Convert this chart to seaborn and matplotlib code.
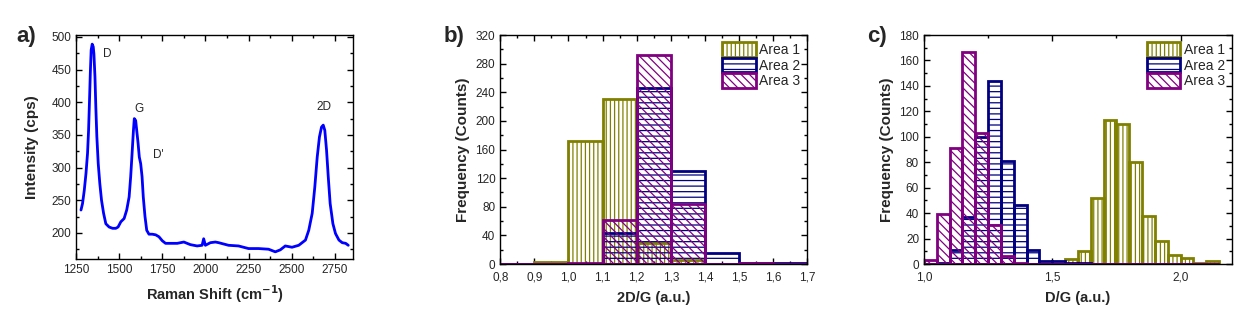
import numpy as np
import pandas as pd
import seaborn as sns
import matplotlib.pyplot as plt
from matplotlib.patches import Patch
from matplotlib.ticker import MultipleLocator, FuncFormatter

# --- panel a: Raman spectrum ---
raman_shift = [1279, 1288, 1298, 1308, 1317, 1323, 1329, 1333, 1338, 1344, 1350, 1354,
               1360, 1365, 1371, 1379, 1388, 1398, 1410, 1423, 1442, 1462, 1481, 1494,
               1510, 1529, 1544, 1558, 1567, 1575, 1583, 1588, 1596, 1602, 1610, 1617,
               1625, 1633, 1640, 1650, 1660, 1673, 1692, 1712, 1731, 1750, 1769, 1798,
               1837, 1875, 1913, 1952, 1981, 1990, 2000, 2029, 2058, 2077, 2134, 2192,
               2250, 2308, 2366, 2405, 2434, 2463, 2502, 2541, 2580, 2599, 2619, 2634,
               2648, 2661, 2673, 2683, 2692, 2702, 2712, 2723, 2739, 2754, 2774, 2793,
               2813, 2828]
intensity = [235, 245, 265, 291, 322, 357, 408, 444, 480, 489, 485, 474,
             439, 393, 347, 306, 276, 250, 230, 214, 209, 207, 207, 209,
             217, 222, 235, 255, 286, 321, 357, 375, 372, 357, 337, 316,
             306, 286, 255, 225, 204, 198, 198, 197, 194, 188, 184, 184,
             184, 186, 182, 180, 181, 191, 181, 185, 186, 185, 181, 180,
             176, 176, 175, 171, 174, 180, 178, 181, 189, 204, 230, 270,
             316, 347, 362, 365, 357, 327, 286, 245, 214, 199, 189, 185,
             184, 181]
peak_names = ["D", "G", "D'", "2D"]
peak_x = [1431, 1613, 1727, 2686]
peak_y = [474, 390, 319, 392]

# --- panel b: 2D/G histogram ---
b_edges = [0.8, 0.9, 1.0, 1.1, 1.2, 1.3, 1.4, 1.5, 1.6, 1.7]
b_area1 = [0, 3, 172, 231, 30, 5, 0, 0, 0]
b_area2 = [0, 0, 0, 44, 246, 130, 16, 1, 1]
b_area3 = [0, 0, 1, 61, 292, 84, 0, 1, 0]
b_xticks = [0.8, 0.9, 1.0, 1.1, 1.2, 1.3, 1.4, 1.5, 1.6, 1.7]

# --- panel c: D/G histogram ---
c_edges = [1.00, 1.05, 1.10, 1.15, 1.20, 1.25, 1.30, 1.35, 1.40, 1.45, 1.50, 1.55,
           1.60, 1.65, 1.70, 1.75, 1.80, 1.85, 1.90, 1.95, 2.00, 2.05, 2.10, 2.15]
c_area1 = [0, 0, 0, 0, 0, 0, 0, 0, 0, 0, 0, 4,
           10, 52, 113, 110, 80, 38, 18, 7, 5, 1, 2]
c_area2 = [0, 1, 11, 37, 100, 144, 81, 46, 11, 2, 2, 1,
           1, 0, 0, 0, 0, 0, 0, 0, 0, 0, 0]
c_area3 = [3, 39, 91, 167, 103, 31, 6, 1, 0, 0, 0, 0,
           0, 0, 0, 0, 0, 0, 0, 0, 0, 0, 0]
c_xticks = [1.0, 1.5, 2.0]

areas = ["Area 1", "Area 2", "Area 3"]
colors = ["#808000", "#000080", "#800080"]
hatches = ["||||", "---", "\\\\\\\\"]

sns.set_style("ticks")
plt.rcParams["font.family"] = ["Liberation Sans", "DejaVu Sans"]
plt.rcParams["hatch.linewidth"] = 0.9

fig = plt.figure(figsize=(12.6, 3.13), dpi=100)
ax_a = fig.add_axes([0.0603, 0.1725, 0.2198, 0.7157])
ax_b = fig.add_axes([0.397, 0.1565, 0.2437, 0.7316])
ax_c = fig.add_axes([0.7333, 0.1565, 0.2444, 0.7316])


def style_axes(ax, xpad=3.5):
    ax.tick_params(which="both", direction="in", top=True, right=True,
                   labelsize=8.5, width=1, color="black")
    ax.tick_params(which="major", length=4)
    ax.tick_params(which="minor", length=2)
    ax.tick_params(axis="x", which="major", pad=xpad)
    for s in ax.spines.values():
        s.set_linewidth(1)
        s.set_color("black")


# panel a
sns.lineplot(x=raman_shift, y=intensity, sort=False, estimator=None,
             color="#0000ff", linewidth=2, ax=ax_a)
for name, px, py in zip(peak_names, peak_x, peak_y):
    ax_a.text(px, py, name, fontsize=8.5, ha="center", va="center")
ax_a.set_xlim(1250, 2855)
ax_a.set_ylim(160, 503)
ax_a.xaxis.set_major_locator(MultipleLocator(250))
ax_a.xaxis.set_minor_locator(MultipleLocator(125))
ax_a.yaxis.set_minor_locator(MultipleLocator(25))
ax_a.set_yticks([200, 250, 300, 350, 400, 450, 500])
ax_a.set_xlabel("Raman Shift (cm$^{\\mathbf{-1}}$)", fontsize=10.5,
                fontweight="bold", labelpad=5)
ax_a.set_ylabel("Intensity (cps)", fontsize=11, fontweight="bold", labelpad=9)
style_axes(ax_a)

comma = FuncFormatter(lambda v, p: f"{v:.1f}".replace(".", ","))


def draw_hist(ax, edges, series):
    centers = [(edges[i] + edges[i + 1]) / 2 for i in range(len(edges) - 1)]
    for counts, col, h in zip(series, colors, hatches):
        n0 = len(ax.patches)
        sns.histplot(x=centers, weights=counts, bins=edges, fill=False,
                     color=col, linewidth=2, ax=ax)
        for p in ax.patches[n0:]:
            p.set_hatch(h)
            p.set_edgecolor(col)
    handles = [Patch(facecolor="none", edgecolor=c, hatch=h, linewidth=2)
               for c, h in zip(colors, hatches)]
    ax.legend(handles, areas, loc="upper right", frameon=False, fontsize=10,
              handlelength=2.4, handleheight=1.25, labelspacing=0.05,
              handletextpad=0.25, borderaxespad=0.3, borderpad=0.2)


# panel b
draw_hist(ax_b, b_edges, [b_area1, b_area2, b_area3])
ax_b.set_xlim(0.8, 1.7)
ax_b.set_ylim(0, 320)
ax_b.set_xticks(b_xticks)
ax_b.xaxis.set_major_formatter(comma)
ax_b.xaxis.set_minor_locator(MultipleLocator(0.05))
ax_b.yaxis.set_major_locator(MultipleLocator(40))
ax_b.yaxis.set_minor_locator(MultipleLocator(20))
ax_b.set_xlabel("2D/G (a.u.)", fontsize=10.5, fontweight="bold", labelpad=5)
ax_b.set_ylabel("Frequency (Counts)", fontsize=11, fontweight="bold")
style_axes(ax_b, xpad=5.5)

# panel c
draw_hist(ax_c, c_edges, [c_area1, c_area2, c_area3])
ax_c.set_xlim(1.0, 2.2)
ax_c.set_ylim(0, 180)
ax_c.set_xticks(c_xticks)
ax_c.xaxis.set_major_formatter(comma)
ax_c.xaxis.set_minor_locator(MultipleLocator(0.25))
ax_c.yaxis.set_major_locator(MultipleLocator(20))
ax_c.yaxis.set_minor_locator(MultipleLocator(10))
ax_c.set_xlabel("D/G (a.u.)", fontsize=10.5, fontweight="bold", labelpad=5)
ax_c.set_ylabel("Frequency (Counts)", fontsize=11, fontweight="bold")
style_axes(ax_c, xpad=5.5)

fig.text(0.013, 0.865, "a)", fontsize=16, fontweight="bold")
fig.text(0.352, 0.865, "b)", fontsize=16, fontweight="bold")
fig.text(0.688, 0.865, "c)", fontsize=16, fontweight="bold")

fig.savefig("out.png", dpi=100)
